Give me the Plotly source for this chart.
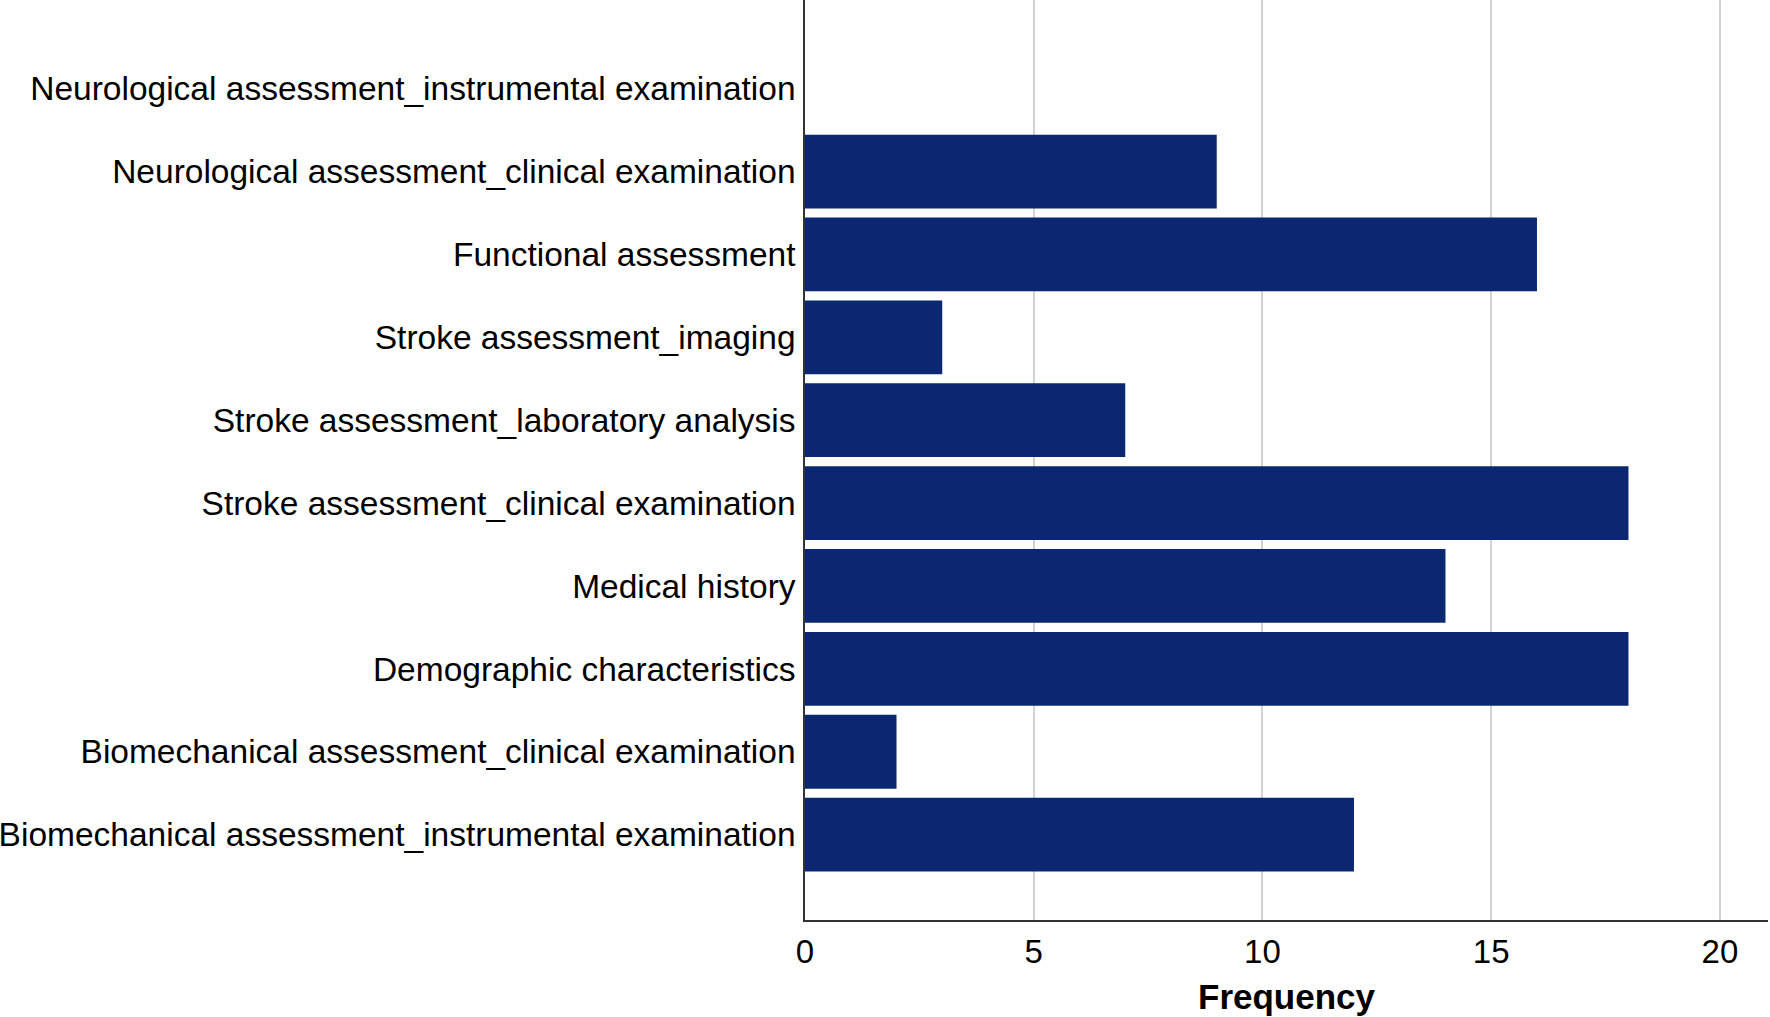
import plotly.graph_objects as go

categories = [
    "Biomechanical assessment_instrumental examination",
    "Biomechanical assessment_clinical examination",
    "Demographic characteristics",
    "Medical history",
    "Stroke assessment_clinical examination",
    "Stroke assessment_laboratory analysis",
    "Stroke assessment_imaging",
    "Functional assessment",
    "Neurological assessment_clinical examination",
    "Neurological assessment_instrumental examination",
]
frequency = [12, 2, 18, 14, 18, 7, 3, 16, 9, 0]
x_ticks = [0, 5, 10, 15, 20]

fig = go.Figure(go.Bar(
    x=frequency,
    y=categories,
    orientation="h",
    marker=dict(color="#0b2771", line=dict(width=0)),
    width=0.89,
))

fig.update_layout(
    width=1770, height=1017,
    margin=dict(l=805, r=2, t=0, b=97),
    paper_bgcolor="white", plot_bgcolor="white",
    font=dict(family="Liberation Sans, Arial, sans-serif", color="black", size=32),
    showlegend=False,
)
fig.update_xaxes(
    range=[0, 21.05], tickvals=x_ticks, ticktext=[str(v) for v in x_ticks],
    showgrid=True, gridcolor="#d2d2d2", gridwidth=1.5,
    zeroline=False, showline=True, linecolor="#333333", linewidth=1.5,
    ticks="", ticklabelstandoff=2, tickfont=dict(size=33),
    title=dict(text="<b>Frequency</b>", font=dict(size=35), standoff=15),
)
fig.update_yaxes(
    type="category", categoryorder="array", categoryarray=categories,
    range=[-1.03, 10.07], showgrid=False, zeroline=False,
    showline=True, linecolor="#333333", linewidth=1.5,
    ticks="", ticklabelstandoff=1, tickfont=dict(size=33.5),
)

fig.write_html(
    "out.html",
    config={"displayModeBar": False},
    post_script="document.body.style.margin='0';document.body.style.overflow='hidden';",
)
